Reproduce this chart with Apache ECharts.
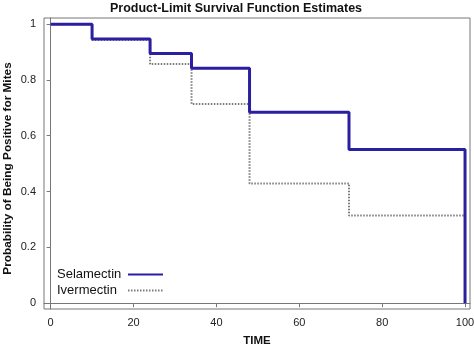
<!DOCTYPE html>
<html>
<head>
<meta charset="utf-8">
<script src="https://cdn.jsdelivr.net/npm/echarts@6/dist/echarts.min.js"></script>
<style>html,body{margin:0;padding:0;background:#fff}#c{width:474px;height:348px}</style>
</head>
<body>
<div id="c"></div>
<script>
const times = [0, 10, 24, 34, 48, 72, 100];
const selamectin = [1, 0.947, 0.895, 0.842, 0.684, 0.551, 0];
const ivermectin = [1, 0.943, 0.857, 0.714, 0.429, 0.314, 0.314];
const xTicks = [0, 20, 40, 60, 80, 100];
const yTicks = [0, 0.2, 0.4, 0.6, 0.8, 1];

const chart = echarts.init(document.getElementById('c'), null, {renderer: 'canvas'});
const font = 'Arial, "Liberation Sans", sans-serif';
chart.setOption({
  animation: false,
  title: {
    text: 'Product-Limit Survival Function Estimates',
    left: 236, top: 2, padding: 0, textAlign: 'center',
    textStyle: {fontFamily: font, fontSize: 12.5, fontWeight: 'bold', color: '#111'}
  },
  grid: {left: 44, right: 4, top: 18, bottom: 39, show: true, borderColor: '#777', borderWidth: 1,
         backgroundColor: '#fff', outerBoundsMode: 'none', containLabel: false},
  legend: {
    orient: 'vertical', left: 57, top: 268, align: 'right', itemGap: 3, padding: 0,
    itemWidth: 35, itemHeight: 12,
    data: ['Selamectin', 'Ivermectin'],
    itemStyle: {color: 'transparent', borderColor: 'transparent', borderWidth: 0, opacity: 0},
    formatter: function (n) { return '{n|' + n + '}'; },
    textStyle: {
      fontFamily: font, fontSize: 13, color: '#111',
      rich: {n: {fontFamily: font, fontSize: 13, color: '#111', width: 66, align: 'left'}}
    }
  },
  xAxis: {
    type: 'value', min: -1.6, max: 101.2,
    name: 'TIME', nameLocation: 'middle', nameGap: 26, nameMoveOverlap: false,
    nameTextStyle: {fontFamily: font, fontSize: 11.5, fontWeight: 'bold', color: '#111'},
    axisLine: {show: true, lineStyle: {color: '#777'}},
    axisTick: {show: true, length: 4, customValues: xTicks, lineStyle: {color: '#777'}},
    axisLabel: {customValues: xTicks, fontFamily: font, fontSize: 11, color: '#222', margin: 8},
    splitLine: {show: false}
  },
  yAxis: {
    type: 'value', min: -0.021, max: 1.022,
    name: 'Probability of Being Positive for Mites', nameLocation: 'middle', nameGap: 30, nameMoveOverlap: false,
    nameTextStyle: {fontFamily: font, fontSize: 11.8, fontWeight: 'bold', color: '#111', padding: [0, 10, 0, 0]},
    axisLine: {show: true, lineStyle: {color: '#777'}},
    axisTick: {show: true, length: 4, customValues: yTicks, lineStyle: {color: '#777'}},
    axisLabel: {customValues: yTicks, fontFamily: font, fontSize: 11, color: '#222', margin: 8},
    splitLine: {show: false}
  },
  series: [
    {
      name: 'Ivermectin', type: 'line', step: 'end', showSymbol: false, symbol: 'none', z: 2,
      data: times.map((t, i) => [t, ivermectin[i]]),
      lineStyle: {color: '#7a7a7a', width: 2, type: [1.5, 1.5]},
      itemStyle: {color: '#7a7a7a'}
    },
    {
      name: 'Selamectin', type: 'line', step: 'end', showSymbol: false, symbol: 'none', z: 3,
      data: times.map((t, i) => [t, selamectin[i]]),
      lineStyle: {color: '#2a1fa0', width: 3},
      itemStyle: {color: '#2a1fa0'}
    }
  ]
});
</script>
</body>
</html>
